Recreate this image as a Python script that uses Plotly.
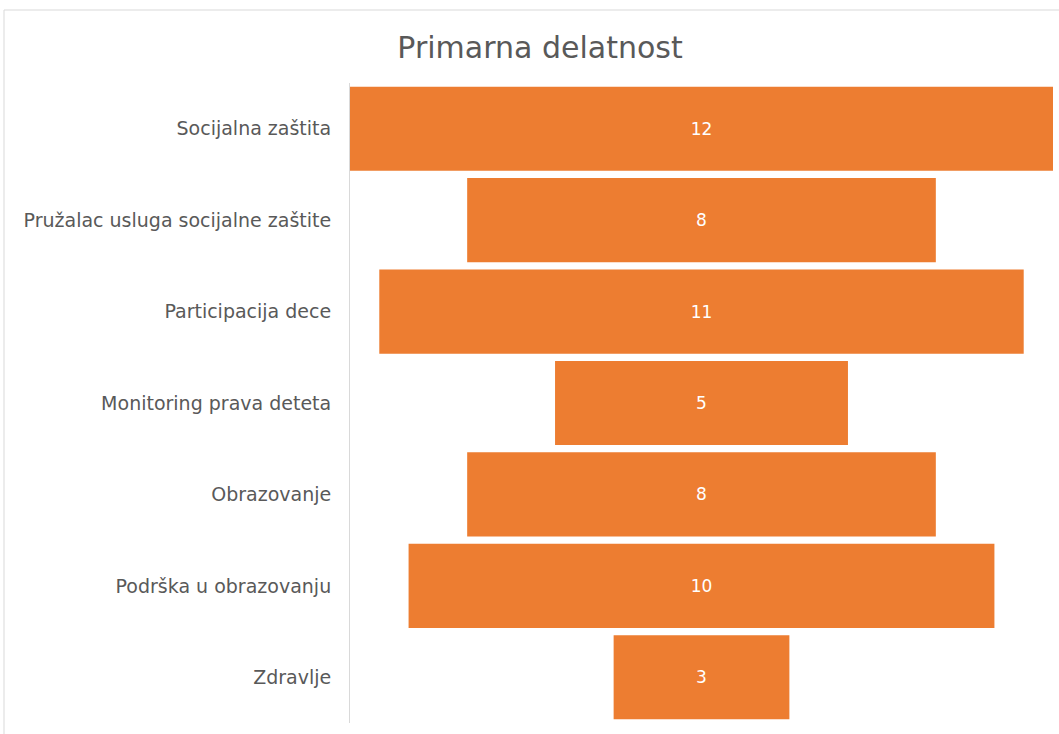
import plotly.graph_objects as go

categories = ["Socijalna zaštita", "Pružalac usluga socijalne zaštite", "Participacija dece",
              "Monitoring prava deteta", "Obrazovanje", "Podrška u obrazovanju", "Zdravlje"]
values = [12, 8, 11, 5, 8, 10, 3]

W, H = 1059, 734
ml, mr, mt, mb = 350, 6, 83, 11
pw, ph = W - ml - mr, H - mt - mb

fig = go.Figure(go.Funnel(
    y=categories, x=values,
    marker=dict(color="#ED7D31"),
    connector=dict(visible=False),
    textposition="inside", textinfo="value",
    textfont=dict(color="white", size=17, family="DejaVu Sans"),
    insidetextanchor="middle",
))

fig.update_layout(
    width=W, height=H,
    margin=dict(l=ml, r=mr, t=mt, b=mb),
    paper_bgcolor="white", plot_bgcolor="white",
    funnelgap=0.08,
    showlegend=False,
    title=dict(text="Primarna delatnost", x=540 / W, xanchor="center",
               y=1 - 47 / H, yanchor="middle", yref="container",
               font=dict(family="DejaVu Sans", size=30, color="#595959")),
    xaxis=dict(visible=False, range=[-6, 6]),
    yaxis=dict(showline=True, linecolor="#d9d9d9", linewidth=1, showgrid=False,
               tickfont=dict(family="DejaVu Sans", size=19, color="#595959"),
               ticklabelstandoff=14),
    shapes=[dict(type="rect", xref="paper", yref="paper",
                 x0=(4 - ml) / pw, x1=(1065 - ml) / pw,
                 y0=(H - mb - 745) / ph, y1=(H - mb - 10) / ph,
                 line=dict(color="#d9d9d9", width=1), fillcolor="rgba(0,0,0,0)", layer="below")],
)

fig.write_html("out.html")
